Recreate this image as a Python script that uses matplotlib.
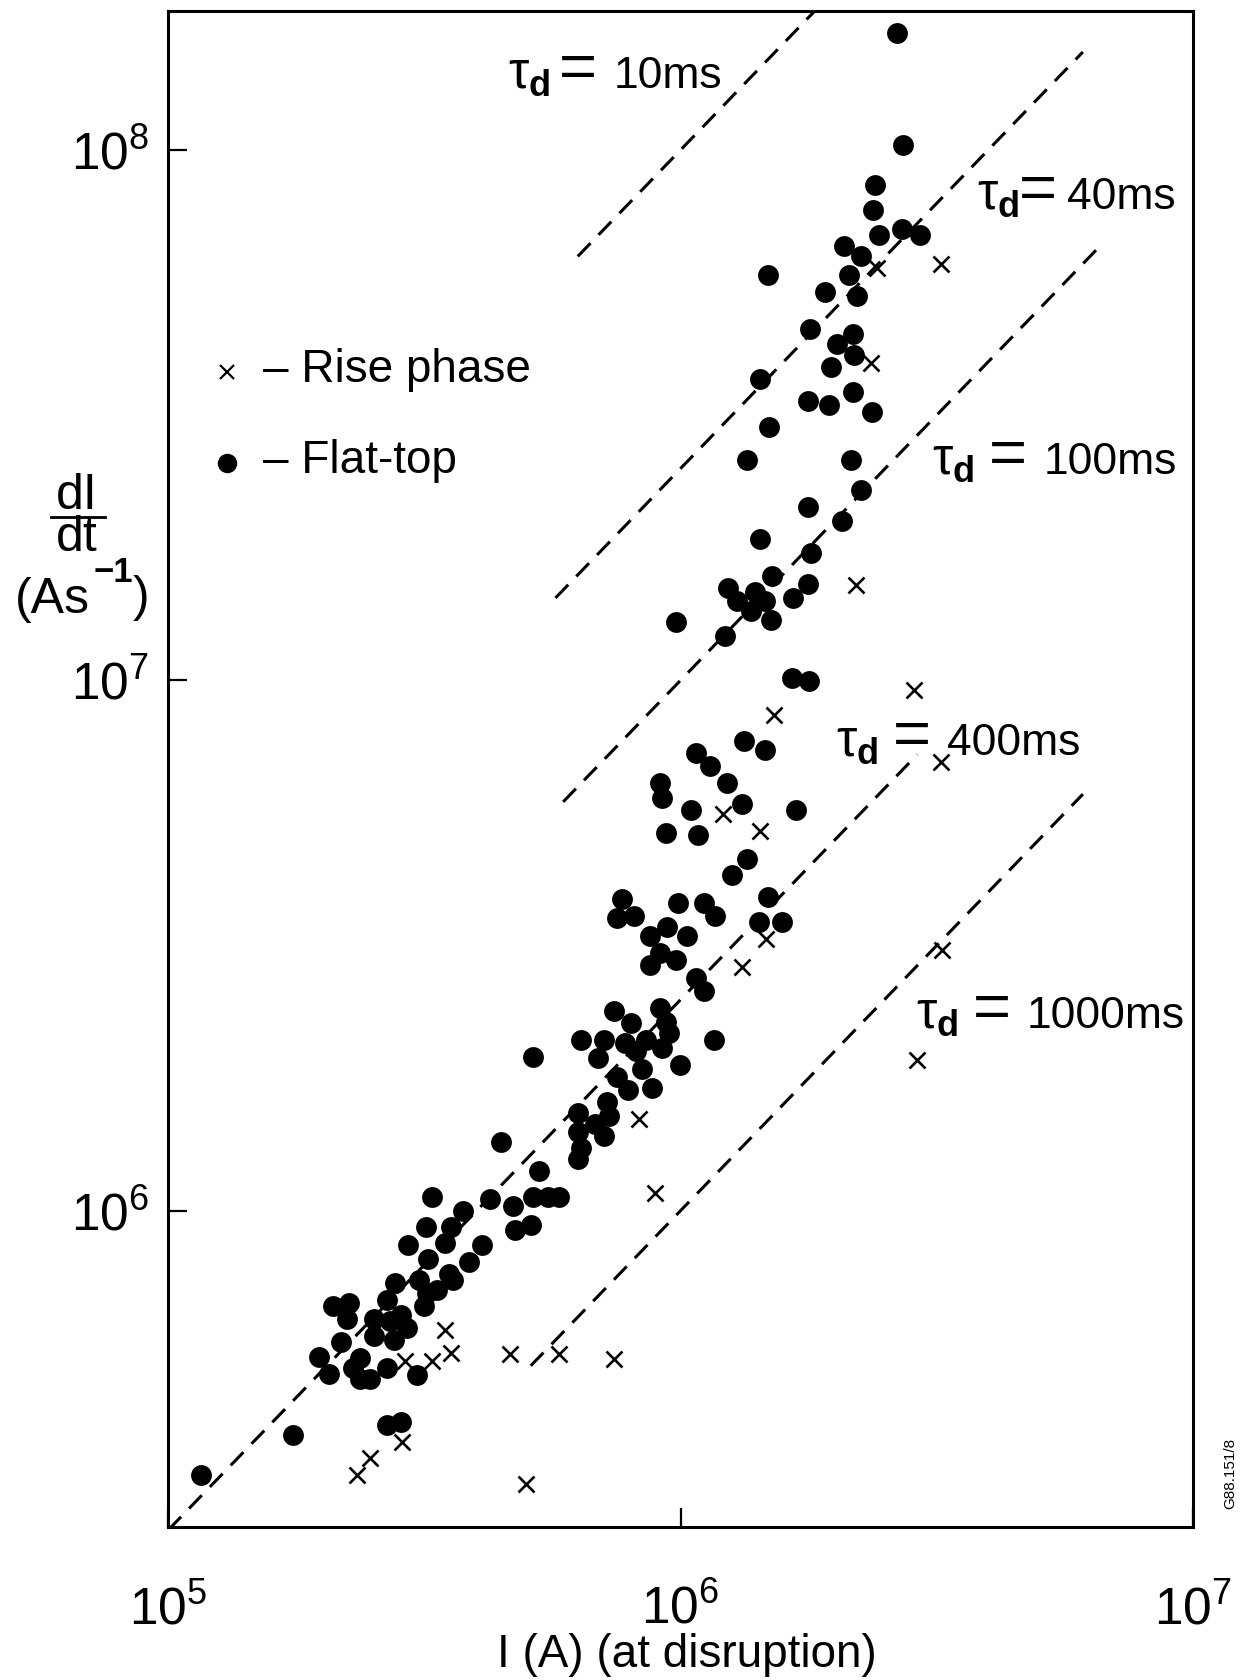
import matplotlib
matplotlib.use("Agg")
import matplotlib.pyplot as plt
from matplotlib.lines import Line2D

# ----------------------------
# Data
# ----------------------------
# flat-top disruptions (dots)
flat_I = [
    2.64e6, 2.72e6, 2.40e6, 2.37e6, 2.44e6, 2.70e6, 2.94e6, 2.08e6, 2.25e6, 2.13e6,
    2.21e6, 1.91e6, 1.48e6, 1.79e6, 2.17e6, 2.02e6, 2.18e6, 1.97e6, 1.43e6, 1.77e6,
    1.95e6, 2.17e6, 2.36e6, 1.49e6, 1.35e6, 2.15e6, 2.25e6, 1.77e6, 2.07e6, 1.43e6,
    1.80e6, 1.51e6, 1.77e6, 1.66e6, 1.24e6, 1.40e6, 1.29e6, 1.46e6, 1.37e6, 1.50e6,
    9.8e5, 1.22e6, 1.65e6, 1.78e6, 1.33e6, 1.46e6, 1.07e6, 1.14e6, 9.1e5, 9.2e5,
    1.23e6, 1.32e6, 1.05e6, 1.68e6, 9.35e5, 1.08e6, 1.35e6, 1.26e6, 1.48e6, 7.7e5,
    7.5e5, 8.1e5, 9.9e5, 1.11e6, 1.17e6, 1.42e6, 1.58e6, 9.4e5, 8.7e5, 1.03e6,
    9.1e5, 8.7e5, 9.8e5, 1.07e6, 1.11e6, 7.4e5, 9.1e5, 1.16e6, 8.0e5, 9.35e5,
    6.4e5, 7.1e5, 7.8e5, 8.55e5, 9.5e5, 6.9e5, 8.2e5, 9.2e5, 9.96e5, 5.15e5,
    7.5e5, 8.4e5, 8.8e5, 7.9e5, 7.2e5, 7.25e5, 6.3e5, 6.8e5, 7.1e5, 6.3e5,
    6.4e5, 6.3e5, 4.47e5, 5.3e5, 5.16e5, 5.5e5, 5.8e5, 4.25e5, 4.7e5, 5.1e5,
    4.76e5, 3.27e5, 3.76e5, 3.18e5, 3.56e5, 4.1e5, 3.47e5, 2.94e5, 3.22e5, 3.86e5,
    3.53e5, 2.77e5, 3.08e5, 3.6e5, 3.2e5, 2.67e5, 2.84e5, 3.35e5, 3.15e5, 2.92e5,
    2.71e5, 2.52e5, 2.10e5, 2.25e5, 2.23e5, 2.17e5, 1.97e5, 2.06e5, 2.37e5, 2.29e5,
    2.37e5, 2.52e5, 2.76e5, 2.67e5, 2.48e5, 3.06e5, 2.67e5, 2.84e5, 1.75e5, 1.16e5,
]
flat_dIdt = [
    1.66e8, 1.02e8, 8.6e7, 7.7e7, 6.9e7, 7.1e7, 6.9e7, 6.6e7, 6.3e7, 5.8e7,
    5.3e7, 5.4e7, 5.8e7, 4.6e7, 4.5e7, 4.3e7, 4.1e7, 3.9e7, 3.7e7, 3.36e7,
    3.3e7, 3.5e7, 3.2e7, 3.0e7, 2.6e7, 2.6e7, 2.28e7, 2.12e7, 2.0e7, 1.85e7,
    1.74e7, 1.57e7, 1.52e7, 1.43e7, 1.49e7, 1.47e7, 1.41e7, 1.41e7, 1.35e7, 1.30e7,
    1.29e7, 1.21e7, 1.01e7, 9.96e6, 7.7e6, 7.4e6, 7.3e6, 6.9e6, 6.4e6, 6.0e6,
    6.4e6, 5.85e6, 5.7e6, 5.7e6, 5.15e6, 5.1e6, 4.6e6, 4.3e6, 3.9e6, 3.87e6,
    3.56e6, 3.6e6, 3.8e6, 3.8e6, 3.6e6, 3.5e6, 3.5e6, 3.43e6, 3.3e6, 3.3e6,
    3.06e6, 2.9e6, 2.97e6, 2.75e6, 2.6e6, 2.38e6, 2.41e6, 2.1e6, 2.26e6, 2.27e6,
    2.1e6, 2.1e6, 2.07e6, 2.1e6, 2.16e6, 1.94e6, 2.0e6, 2.03e6, 1.88e6, 1.95e6,
    1.79e6, 1.85e6, 1.70e6, 1.69e6, 1.60e6, 1.51e6, 1.53e6, 1.46e6, 1.38e6, 1.41e6,
    1.31e6, 1.25e6, 1.35e6, 1.19e6, 1.06e6, 1.06e6, 1.06e6, 1.05e6, 1.02e6, 9.4e5,
    9.2e5, 1.06e6, 1.0e6, 9.3e5, 9.3e5, 8.6e5, 8.7e5, 8.6e5, 8.1e5, 8.0e5,
    7.6e5, 7.3e5, 7.4e5, 7.4e5, 7.0e5, 6.8e5, 6.35e5, 7.1e5, 6.6e5, 6.0e5,
    6.2e5, 6.25e5, 6.6e5, 6.7e5, 6.25e5, 5.65e5, 5.3e5, 4.93e5, 5.27e5, 5.04e5,
    4.82e5, 5.8e5, 5.7e5, 5.04e5, 4.82e5, 4.9e5, 3.94e5, 3.99e5, 3.77e5, 3.17e5,
]

# rise-phase disruptions (crosses)
rise_I = [
    2.42e6, 3.23e6, 2.35e6, 2.20e6, 2.86e6, 1.52e6, 3.22e6, 1.21e6, 1.43e6, 1.47e6,
    1.32e6, 3.24e6, 2.9e6, 8.3e5, 8.9e5, 2.9e5, 3.27e5, 3.56e5, 3.47e5, 4.64e5,
    5.8e5, 7.4e5, 2.86e5, 2.48e5, 2.34e5, 5.0e5,
]
rise_dIdt = [
    6.0e7, 6.1e7, 3.96e7, 1.51e7, 9.6e6, 8.6e6, 7.0e6, 5.6e6, 5.2e6, 3.25e6,
    2.88e6, 3.1e6, 1.92e6, 1.49e6, 1.08e6, 5.2e5, 5.2e5, 5.4e5, 5.95e5, 5.36e5,
    5.36e5, 5.25e5, 3.66e5, 3.41e5, 3.17e5, 3.05e5,
]

# constant decay-time lines: end points (I, dI/dt)
tau_names = ["10ms", "40ms", "100ms", "400ms", "1000ms"]
tau_I = [(6.3e5, 2.0e6), (5.7e5, 6.1e6), (5.9e5, 6.7e6), (1.0e5, 2.9e6), (5.1e5, 6.1e6)]
tau_dIdt = [(6.3e7, 2.0e8), (1.43e7, 1.53e8), (5.9e6, 6.7e7), (2.5e5, 7.25e6), (5.1e5, 6.1e6)]

# label anchor points (left edge of tau, text baseline)
tau_label_I = [4.6e5, 3.79e6, 3.1e6, 2.01e6, 2.88e6]
tau_label_dIdt = [1.31e8, 7.74e7, 2.45e7, 7.22e6, 2.21e6]

# ----------------------------
# Plot styling
# ----------------------------
plt.rcParams["font.family"] = ["Liberation Sans", "DejaVu Sans"]
plt.rcParams.update(
    {
        "mathtext.fontset": "custom",
        "mathtext.rm": "Liberation Sans",
        "mathtext.it": "Liberation Sans:italic",
        "mathtext.bf": "Liberation Sans:bold",
        "font.size": 32,
    }
)

# horizontal offsets (points) of "=" and of the value from the tau glyph
eq_offsets = [37, 30, 41, 41, 41]
val_offsets = [76, 65, 80, 80, 80]

fig = plt.figure(figsize=(12.41, 16.80), dpi=100)
ax = fig.add_axes([0.1356, 0.0912, 0.8256, 0.9024])
ax.set_xscale("log")
ax.set_yscale("log")

for xs, ys in zip(tau_I, tau_dIdt):
    ax.plot(xs, ys, color="black", linewidth=2.2, linestyle=(0, (6.0, 3.8)))

ax.plot(flat_I, flat_dIdt, linestyle="none", marker="o", markersize=15,
        color="black", markeredgewidth=0)
ax.plot(rise_I, rise_dIdt, linestyle="none", marker="x", markersize=11,
        color="black", markeredgewidth=1.9)

for name, lx, ly, eo, vo in zip(tau_names, tau_label_I, tau_label_dIdt,
                                eq_offsets, val_offsets):
    ax.annotate(r"$\mathrm{\tau}_{\mathbf{d}}$", xy=(lx, ly), ha="left",
                va="baseline", fontsize=37)
    ax.annotate("=", xy=(lx, ly), xytext=(eo, 0), textcoords="offset points",
                ha="left", va="baseline", fontsize=47)
    ax.annotate(name, xy=(lx, ly), xytext=(vo, 0), textcoords="offset points",
                ha="left", va="baseline", fontsize=32)

# in-plot key
ax.plot([0.0575], [0.762], transform=ax.transAxes, marker="x", markersize=10,
        color="black", markeredgewidth=1.6, linestyle="none")
ax.plot([0.0575], [0.702], transform=ax.transAxes, marker="o", markersize=14,
        color="black", markeredgewidth=0, linestyle="none")
ax.text(0.092, 0.763, "\u2013 Rise phase", transform=ax.transAxes,
        ha="left", va="center", fontsize=33)
ax.text(0.092, 0.703, "\u2013 Flat-top", transform=ax.transAxes,
        ha="left", va="center", fontsize=33)

ax.set_xlim(1e5, 1e7)
ax.set_ylim(2.535e5, 1.83e8)
ax.set_xticks([1e5, 1e6, 1e7])
ax.set_yticks([1e6, 1e7, 1e8])
ax.minorticks_off()
ax.tick_params(direction="in", length=14, width=1.6, labelsize=37,
               top=False, right=False)
ax.tick_params(axis="x", pad=42)
ax.tick_params(axis="y", pad=14)
for sp in ax.spines.values():
    sp.set_linewidth(2.2)

# axis titles
fig.text(0.5535, 0.0147, "I (A) (at disruption)", ha="center", va="center", fontsize=33)
fig.text(0.0622, 0.7047, "dI", ha="center", va="center", fontsize=36)
fig.add_artist(Line2D([0.041, 0.085], [0.692, 0.692], transform=fig.transFigure,
                      color="black", linewidth=2))
fig.text(0.0622, 0.680, "dt", ha="center", va="center", fontsize=36)
fig.text(0.012, 0.643, "(As", ha="left", va="center", fontsize=36)
fig.text(0.075, 0.659, "\u22121", ha="left", va="center", fontsize=25, fontweight="bold")
fig.text(0.107, 0.644, ")", ha="left", va="center", fontsize=36)
fig.text(0.991, 0.123, "G88.151/8", rotation=90, ha="center", va="center", fontsize=11)

fig.savefig("out.png", dpi=100)
